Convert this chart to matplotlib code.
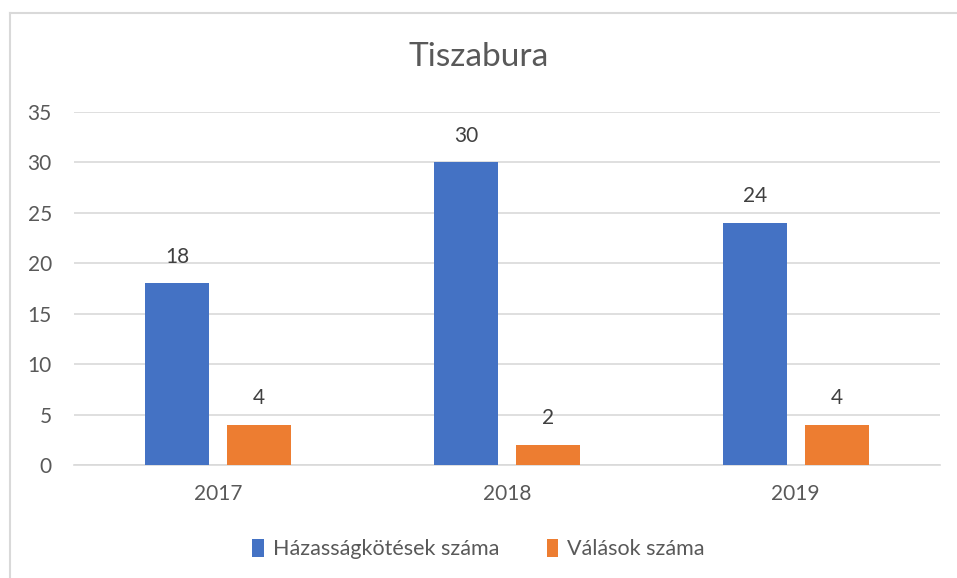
import matplotlib.pyplot as plt
import numpy as np
from matplotlib.lines import Line2D

years = ["2017", "2018", "2019"]
marriages = [18, 30, 24]
divorces = [4, 2, 4]
series_names = ["Házasságkötések száma", "Válások száma"]
title = "Tiszabura"

plt.rcParams['font.family'] = ['Lato', 'DejaVu Sans']

blue = "#4472C4"
orange = "#ED7D31"
text_col = "#595959"
grid_col = "#D9D9D9"

fig = plt.figure(figsize=(9.57, 5.78), dpi=100)
ax = fig.add_axes([74 / 957, 1 - 465 / 578, (940 - 74) / 957, (465 - 112) / 578])

x = np.arange(len(years))
w = 0.222
off = 0.142
b1 = ax.bar(x - off, marriages, w, color=blue, label=series_names[0], zorder=3)
b2 = ax.bar(x + off, divorces, w, color=orange, label=series_names[1], zorder=3)

for bars in (b1, b2):
    for rect in bars:
        h = rect.get_height()
        ax.annotate(str(int(h)), (rect.get_x() + rect.get_width() / 2, h),
                    xytext=(0, 12), textcoords="offset points",
                    ha="center", va="bottom", fontsize=15, color="#404040")

ax.set_xlim(-0.5, 2.5)
ax.set_ylim(0, 35)
ax.set_yticks(range(0, 36, 5))
ax.set_xticks(x)
ax.set_xticklabels(years)
ax.yaxis.grid(True, color=grid_col, linewidth=1.2, zorder=0)
for s in ["top", "right", "left"]:
    ax.spines[s].set_visible(False)
ax.spines["bottom"].set_color(grid_col)
ax.spines["bottom"].set_linewidth(1.2)
ax.tick_params(axis="y", length=0, pad=16, labelsize=15, labelcolor=text_col)
ax.tick_params(axis="x", length=0, pad=14, labelsize=15, labelcolor=text_col)

fig.text(0.5, 1 - 57 / 578, title, ha="center", va="center", fontsize=24, color=text_col)

fig.legend(handles=[b1, b2], labels=series_names, loc="center",
           bbox_to_anchor=(0.5, 1 - 549 / 578), ncol=2, frameon=False,
           fontsize=15.5, labelcolor=text_col, handlelength=0.55, handleheight=0.9,
           handletextpad=0.4, columnspacing=2.2)

# chart frame (left and top edges visible)
fig.add_artist(Line2D([10 / 957, 10 / 957], [0, 1 - 13 / 578], transform=fig.transFigure,
                      color=grid_col, linewidth=1.5))
fig.add_artist(Line2D([10 / 957, 1], [1 - 13 / 578, 1 - 13 / 578], transform=fig.transFigure,
                      color=grid_col, linewidth=1.5))

fig.savefig("out.png", dpi=100)
